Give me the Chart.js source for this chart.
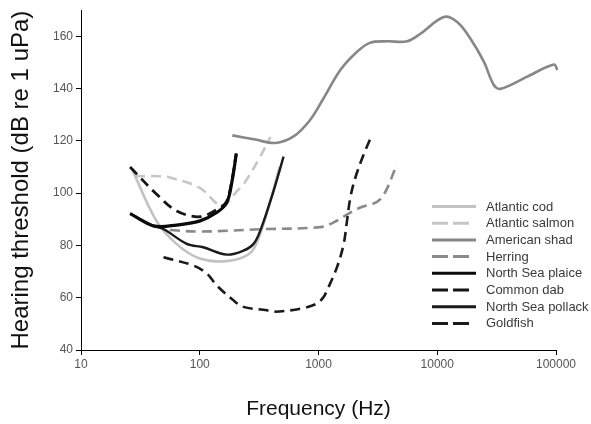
<!DOCTYPE html>
<html>
<head>
<meta charset="utf-8">
<script src="https://cdn.jsdelivr.net/npm/chart.js@4"></script>
<style>
  html, body { margin: 0; padding: 0; background: #fff; }
</style>
</head>
<body>
<canvas id="chart" width="591" height="424"></canvas>
<script>
/* hearing threshold curves (Hz, dB re 1 uPa) */
const xTicks = [10, 100, 1000, 10000, 100000];
const yTicks = [40, 60, 80, 100, 120, 140, 160];

const codFreq = [27, 43, 64, 100, 170, 265, 320, 410, 470];
const codDb   = [109, 89.5, 80.5, 75, 74, 77, 84, 100, 110];

const salmonFreq = [28.5, 46, 56, 100, 139, 158, 206, 234, 323, 393];
const salmonDb   = [106.5, 106.5, 106, 102, 96, 95, 100.8, 103.4, 114, 121.5];

const shadFreq = [188, 293, 433, 617, 853, 1104, 1527, 2113, 2736, 3783, 5572, 7210, 11350, 14720, 19060, 24680, 29950, 34100, 57300, 96000, 102600];
const shadDb   = [122.1, 120.5, 119.2, 121.7, 128.1, 136.3, 147.1, 154.1, 157.6, 158.1, 158.1, 161, 167.4, 165.5, 159.1, 150.3, 141.4, 139.9, 144.6, 149.2, 147.1];

const herringFreq = [56, 100, 323, 1035, 1341, 1854, 2254, 3322, 4591];
const herringDb   = [85.9, 85.3, 86.2, 87, 88.8, 92.6, 94.5, 97.7, 111];

const plaiceFreq = [25.9, 40.7, 64, 100.7, 139, 169, 187, 203];
const plaiceDb   = [92.2, 87.5, 87.8, 89.4, 92.6, 96.4, 104.6, 115];

const dabFreq = [25.9, 43.4, 64, 100.7, 148.6, 169, 187, 203];
const dabDb   = [110, 99.6, 93.2, 91, 94.5, 97, 105, 115.3];

const pollackFreq = [25.9, 40.7, 49.5, 77.8, 107, 169, 233, 284, 323, 418, 508];
const pollackDb   = [92.2, 87.5, 86.3, 80.6, 79.3, 76.5, 78, 80.6, 85.6, 100.8, 114];

const goldfishFreq = [49.5, 88.5, 115, 139, 192, 233, 368, 418, 703, 970, 1104, 1180, 1432, 1630, 1738, 1854, 2043, 2400, 2825];
const goldfishDb   = [75.5, 72.3, 69.2, 64.7, 59, 56.5, 55.2, 54.6, 55.8, 57.8, 60.3, 62.8, 71.7, 80.6, 89.4, 98.3, 105.9, 114.8, 122.4];

function pts(fs, ds){ return fs.map((f, i) => ({ x: f, y: ds[i] })); }

const DASH = [10, 6];
function line(label, fs, ds, color, dashed, width, order){
  return {
    label,
    data: pts(fs, ds),
    borderColor: color,
    backgroundColor: color,
    borderWidth: width,
    borderDash: dashed ? DASH : [],
    pointRadius: 0,
    tension: 0.35,
    fill: false,
    clip: false,
    order
  };
}

const datasets = [
  line('Atlantic cod', codFreq, codDb, '#c2c2c2', false, 2.6, 3),
  line('Atlantic salmon', salmonFreq, salmonDb, '#c6c6c6', true, 2.6, 3),
  line('American shad', shadFreq, shadDb, '#878787', false, 2.6, 2),
  line('Herring', herringFreq, herringDb, '#8a8a8a', true, 2.6, 2),
  line('North Sea plaice', plaiceFreq, plaiceDb, '#0a0a0a', false, 3.2, 1),
  line('Common dab', dabFreq, dabDb, '#151515', true, 2.8, 1),
  line('North Sea pollack', pollackFreq, pollackDb, '#1a1a1a', false, 2.4, 1),
  line('Goldfish', goldfishFreq, goldfishDb, '#1a1a1a', true, 2.6, 1)
];

// legend drawn inside the plot, like the original figure
const insideLegend = {
  id: 'insideLegend',
  afterDatasetsDraw(chart){
    const { ctx, chartArea } = chart;
    const x0 = chartArea.left + 351, y0 = chartArea.top + 196.3, rowH = 16.7;
    chart.data.datasets.forEach((ds, i) => {
      const y = y0 + i * rowH;
      const dashed = ds.borderDash.length > 0;
      ctx.save();
      ctx.strokeStyle = ds.borderColor;
      ctx.lineWidth = 3;
      ctx.setLineDash(dashed ? [16, 5] : []);
      ctx.beginPath();
      ctx.moveTo(x0, y);
      ctx.lineTo(x0 + (dashed ? 37 : 44), y);
      ctx.stroke();
      ctx.setLineDash([]);
      ctx.fillStyle = '#3a3a3a';
      ctx.font = '13px "Liberation Sans", Arial, sans-serif';
      ctx.textBaseline = 'middle';
      ctx.fillText(ds.label, x0 + 54, y + 0.5);
      ctx.restore();
    });
  }
};

const tickFont = { family: '"Liberation Sans", Arial, sans-serif', size: 12 };
const fam = '"Liberation Sans", Arial, sans-serif';

new Chart(document.getElementById('chart').getContext('2d'), {
  type: 'line',
  data: { datasets },
  options: {
    responsive: false,
    animation: false,
    layout: { padding: { top: 7, right: 35, left: 0, bottom: 0 } },
    scales: {
      x: {
        type: 'logarithmic',
        min: 10, max: 100000,
        afterBuildTicks: (s) => { s.ticks = xTicks.map(v => ({ value: v })); },
        afterFit: (s) => { s.height = 74; },
        grid: { drawOnChartArea: false, color: '#000', tickLength: 5 },
        border: { color: '#000', width: 1 },
        ticks: { color: '#555', font: tickFont, padding: 2, maxRotation: 0, autoSkip: false, callback: (v) => String(v) },
        title: { display: true, text: 'Frequency (Hz)', color: '#111', font: { family: fam, size: 21 }, padding: { top: 2, bottom: 2 } }
      },
      y: {
        type: 'linear',
        min: 40, max: 170,
        afterBuildTicks: (s) => { s.ticks = yTicks.map(v => ({ value: v })); },
        afterFit: (s) => { s.width = 81; },
        grid: { drawOnChartArea: false, color: '#000', tickLength: 5 },
        border: { color: '#000', width: 1 },
        ticks: { color: '#555', font: tickFont, padding: 3 },
        title: { display: true, text: 'Hearing threshold (dB re 1 uPa)', color: '#111', font: { family: fam, size: 24 }, padding: { top: 7, bottom: 7 } }
      }
    },
    plugins: {
      legend: { display: false },
      tooltip: { enabled: false }
    }
  },
  plugins: [insideLegend]
});
</script>
</body>
</html>
